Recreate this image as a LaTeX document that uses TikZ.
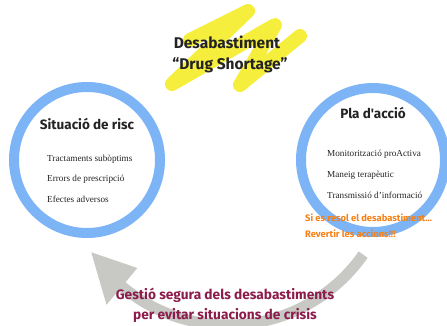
\documentclass[tikz,border=0pt]{standalone}
\usepackage{fontspec}
\setmainfont{Liberation Serif}
\newfontfamily\hand{Fira Sans}
\usetikzlibrary{calc}
\definecolor{ringblue}{RGB}{125,180,246}
\definecolor{hilite}{RGB}{246,238,60}
\definecolor{arrowgray}{RGB}{200,200,196}
\definecolor{maroonc}{RGB}{140,28,75}
\definecolor{orng}{RGB}{246,128,20}
\definecolor{ink}{RGB}{35,35,35}
\begin{document}
\begin{tikzpicture}[x=1pt,y=-1pt,
  ring/.style={circle, draw=ringblue, line width=10pt, inner sep=0pt},
  head/.style={font=\hand\bfseries\fontsize{13.5}{16}\selectfont, text=ink},
  titletext/.style={font=\hand\bfseries\fontsize{15.5}{16}\selectfont, text=ink},
  item/.style={font=\fontsize{9.2}{10}\selectfont, text=ink, anchor=west, inner sep=0pt},
  warn/.style={font=\hand\bfseries\fontsize{9.4}{10}\selectfont, text=orng, anchor=west, inner sep=0pt},
  foot/.style={font=\hand\bfseries\fontsize{13.7}{14}\selectfont, text=maroonc},
  scribble/.style={draw=hilite, line width=14pt, line join=round, line cap=round},
  bigarrow/.style={draw=arrowgray, line width=11pt}]
\useasboundingbox (0,0) rectangle (447,326);
\clip (0,0) rectangle (447,326);
% highlighter scribble
\draw[scribble] (190,40) -- (248,11) -- (172,84) -- (275,25) -- (240,85) -- (300,36);
% circles
\node[ring, minimum size=146pt] (risc) at (87,160) {};
\node[ring, minimum size=144pt] (pla) at (373,160) {};
% curved arrow
\coordinate (c) at (228,160);
\coordinate (astart) at ($(c)+(35:165)$);
\coordinate (tip) at ($(c)+(146:165)$);
\coordinate (w1) at ($(c)+(130:189)$);
\coordinate (w2) at ($(c)+(130:141)$);
\draw[bigarrow] (astart) arc[start angle=35, end angle=131, radius=165];
\fill[arrowgray] (w1) -- (tip) -- (w2) -- cycle;
% title
\node[titletext] (t1) at (227,42) {Desabastiment};
\node[titletext] (t2) at (230,65) {“Drug Shortage”};
% left circle
\node[head] (h1) at (87,124) {Situació de risc};
\node[item] (l1) at (47,159) {Tractaments subòptims};
\node[item] (l2) at (47,179) {Errors de prescripció};
\node[item] (l3) at (47,199) {Efectes adversos};
% right circle
\node[head] (h2) at (373,113) {Pla d'acció};
\node[item] (r1) at (327,154) {Monitorització proActiva};
\node[item] (r2) at (327,175) {Maneig terapèutic};
\node[item] (r3) at (327,195) {Transmissió d'informació};
\node[warn] (o1) at (305,218) {Si es resol el desabastiment...};
\node[warn] (o2) at (305,234) {Revertir les accions!!!};
% footer
\node[foot] (f1) at (225,295) {Gestió segura dels desabastiments};
\node[foot] (f2) at (225,315) {per evitar situacions de crisis};
\end{tikzpicture}
\end{document}
